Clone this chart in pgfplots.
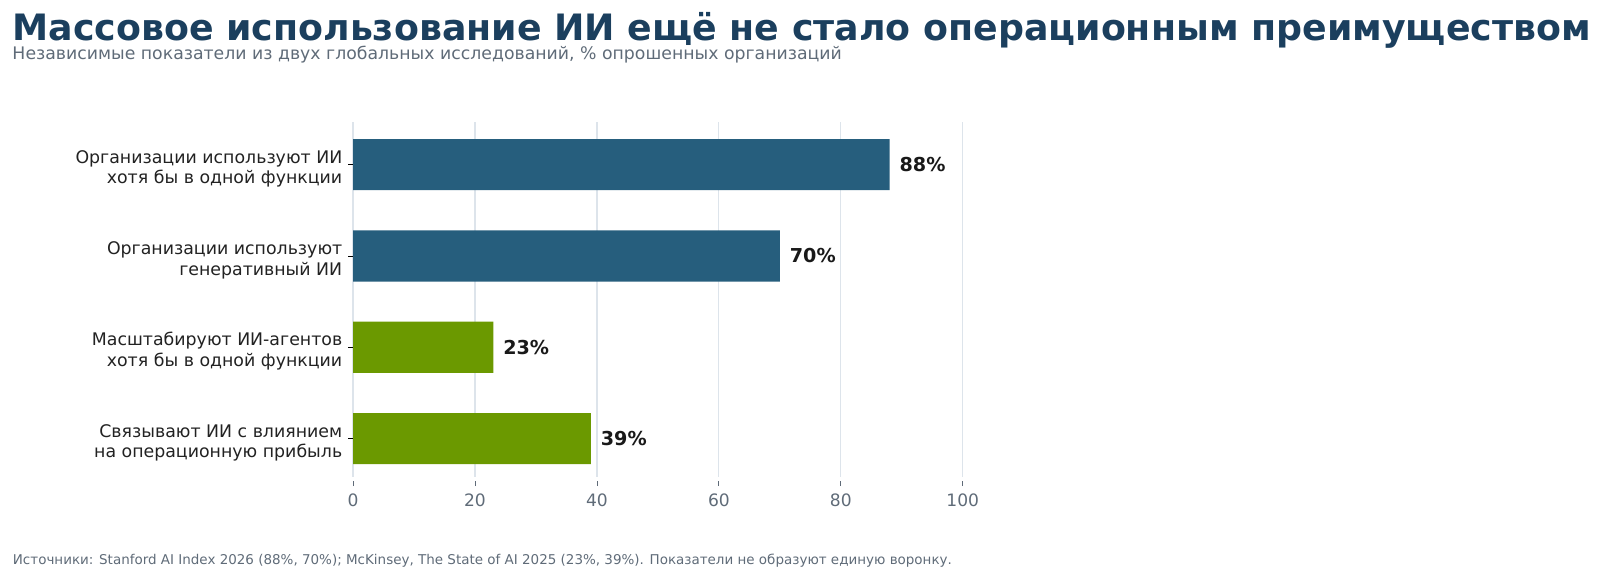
\documentclass[border=0pt]{standalone}
\usepackage{pgfplots}
\pgfplotsset{compat=1.18}
\usepackage{fontspec}
\setmainfont{DejaVu Sans}
\definecolor{titlec}{HTML}{1B3F5E}
\definecolor{subgray}{HTML}{5F6B78}
\definecolor{bluebar}{HTML}{265E7D}
\definecolor{greenbar}{HTML}{6B9900}
\definecolor{gridc}{HTML}{DDE4EB}
\definecolor{labc}{HTML}{222222}
\begin{document}
\begin{tikzpicture}
\useasboundingbox (0,0) rectangle (1152pt,416.88pt);
\node[anchor=base west, inner sep=0pt, text=titlec, font=\fontsize{26.15pt}{31pt}\selectfont\bfseries] at (8.8pt,387.5pt) {Массовое использование ИИ ещё не стало операционным преимуществом};
\node[anchor=base west, inner sep=0pt, text=subgray, font=\fontsize{12.45pt}{15pt}\selectfont] at (8.8pt,374pt) {Независимые показатели из двух глобальных исследований, \% опрошенных организаций};
\node[anchor=base west, inner sep=0pt, text=subgray, font=\fontsize{9.7pt}{11.6pt}\selectfont] at (9.1pt,10.1pt) {Источники: Stanford AI Index 2026 (88\%, 70\%); McKinsey, The State of AI 2025 (23\%, 39\%). Показатели не образуют единую воронку.};
\begin{axis}[
  at={(254.2pt,73.44pt)}, anchor=south west,
  scale only axis, width=439pt, height=255.8pt,
  xmin=0, xmax=100, ymin=-0.42, ymax=3.47,
  xbar, bar width=0.56, bar shift=0pt,
  axis line style={draw=none},
  xtick={0,20,40,60,80,100},
  ytick={0,1,2,3},
  xtick pos=lower, ytick pos=left,
  yticklabels={{Связывают ИИ с влиянием\\на операционную прибыль},{Масштабируют ИИ-агентов\\хотя бы в одной функции},{Организации используют\\генеративный ИИ},{Организации используют ИИ\\хотя бы в одной функции}},
  tick align=outside, major tick length=3.6pt,
  xtick style={draw=subgray, line width=0.6pt, yshift=-2.9pt},
  ytick style={draw=black, line width=0.6pt},
  xmajorgrids, ymajorgrids=false,
  major grid style={draw=gridc, line width=0.8pt},
  /pgf/number format/assume math mode=true,
  xticklabel style={text=subgray, font=\fontsize{12.3pt}{14.8pt}\selectfont, yshift=-5pt},
  yticklabel style={align=right, text=labc, font=\fontsize{12.5pt}{15pt}\selectfont, inner sep=0pt, xshift=-4pt, yshift=-3pt},
  nodes near coords={\pgfmathprintnumber{\pgfplotspointmeta}\%},
  point meta=x,
  nodes near coords style={anchor=west, inner sep=0pt, xshift=7pt, text=black!90, font=\fontsize{13.8pt}{16pt}\selectfont\bfseries, /pgf/number format/assume math mode=true},
  clip=false,
]
\addplot[fill=bluebar, draw=none] coordinates {(88,3) (70,2)};
\addplot[fill=greenbar, draw=none] coordinates {(23,1) (39,0)};
\end{axis}
\end{tikzpicture}
\end{document}
